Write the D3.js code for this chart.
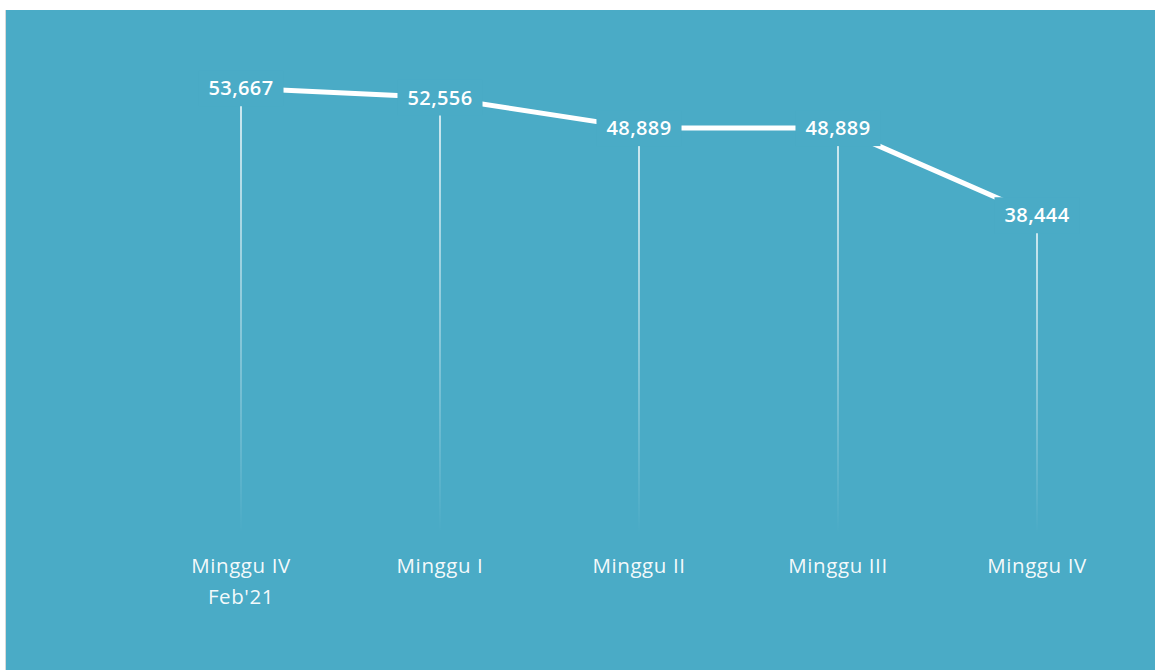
<!DOCTYPE html>
<html>
<head>
<meta charset="utf-8">
<script src="https://cdn.jsdelivr.net/npm/d3@7"></script>
<style>
    body { margin: 0; background: #ffffff; }
    svg { display: block; }
</style>
</head>
<body>
<div id="chart"></div>
<script>
// data
const categories = ['Minggu IV|Feb\'21', 'Minggu I', 'Minggu II', 'Minggu III', 'Minggu IV '];
const values = [53667, 52556, 48889, 48889, 38444];

const width = 1155;
const height = 670;
const bg = '#4aabc6';

const svg = d3.select('#chart')
    .append('svg')
    .attr('width', width)
    .attr('height', height);

// panel background (white strip on top and a thin grey edge on the left)
svg.append('rect')
    .attr('x', 5).attr('y', 10)
    .attr('width', 1).attr('height', height - 10)
    .attr('fill', '#d9d9d9');
svg.append('rect')
    .attr('x', 6).attr('y', 10)
    .attr('width', width - 6).attr('height', height - 10)
    .attr('fill', bg);

// scales
const xScale = d3.scalePoint()
    .domain(categories)
    .range([241, 1037]);
const yScale = d3.scaleLinear()
    .domain([0, 60000])
    .range([536, 35.4]);

const data = categories.map((c, i) => ({ cat: c, value: values[i] }));

// gradient for the drop lines, white fading out to the bottom
const defs = svg.append('defs');
const grad = defs.append('linearGradient')
    .attr('id', 'dropFade')
    .attr('x1', 0).attr('y1', 0)
    .attr('x2', 0).attr('y2', 1);
grad.append('stop').attr('offset', '0%').attr('stop-color', '#ffffff').attr('stop-opacity', 1);
grad.append('stop').attr('offset', '55%').attr('stop-color', '#ffffff').attr('stop-opacity', 0.45);
grad.append('stop').attr('offset', '100%').attr('stop-color', '#ffffff').attr('stop-opacity', 0);

const plot = svg.append('g');

// drop lines
plot.selectAll('.drop')
    .data(data)
    .enter()
    .append('rect')
    .attr('class', 'drop')
    .attr('x', d => xScale(d.cat) - 0.75)
    .attr('y', d => yScale(d.value))
    .attr('width', 1.5)
    .attr('height', d => yScale(0) - 3 - yScale(d.value))
    .attr('fill', 'url(#dropFade)');

// the line
const line = d3.line()
    .x(d => xScale(d.cat))
    .y(d => yScale(d.value));
plot.append('path')
    .datum(data)
    .attr('d', line)
    .attr('fill', 'none')
    .attr('stroke', '#ffffff')
    .attr('stroke-width', 5);

// data labels with a background box that cuts the line
const labels = plot.selectAll('.valLabel')
    .data(data)
    .enter()
    .append('g')
    .attr('class', 'valLabel')
    .attr('transform', d => 'translate(' + xScale(d.cat) + ',' + yScale(d.value) + ')');
labels.append('rect')
    .attr('fill', bg);
const texts = labels.append('text')
    .attr('text-anchor', 'middle')
    .attr('dy', '0.36em')
    .attr('fill', '#ffffff')
    .style('font-family', '"Open Sans", "Noto Sans", sans-serif')
    .style('font-size', '20px')
    .style('letter-spacing', '0.4px')
    .style('font-weight', 600)
    .text(d => d3.format(',')(d.value));
texts.each(function () {
    const w = this.getComputedTextLength();
    d3.select(this.parentNode).select('rect')
        .attr('x', -w / 2 - 10)
        .attr('y', -18)
        .attr('width', w + 20)
        .attr('height', 36);
});

// category labels
const catLabels = plot.selectAll('.catLabel')
    .data(categories)
    .enter()
    .append('text')
    .attr('class', 'catLabel')
    .attr('x', d => xScale(d))
    .attr('y', 573)
    .attr('text-anchor', 'middle')
    .attr('fill', '#ffffff')
    .attr('fill-opacity', 0.95)
    .style('font-family', '"Open Sans", "Noto Sans", sans-serif')
    .style('font-size', '20.5px')
    .style('letter-spacing', '0.6px');
catLabels.each(function (d) {
    const parts = d.trim().split('|');
    const t = d3.select(this);
    parts.forEach((p, i) => {
        t.append('tspan')
            .attr('x', xScale(d))
            .attr('dy', i === 0 ? 0 : 31)
            .text(p);
    });
});
</script>
</body>
</html>
